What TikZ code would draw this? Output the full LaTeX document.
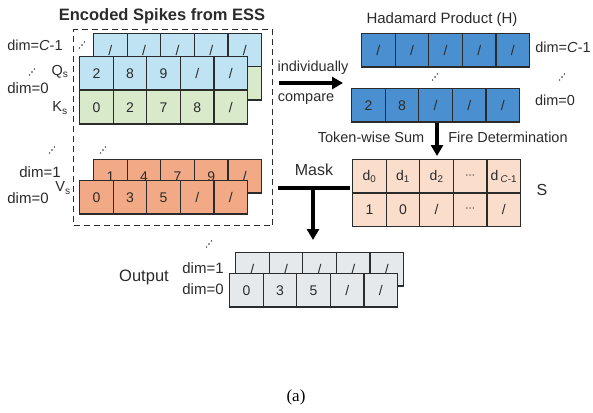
\documentclass[tikz,border=0pt]{standalone}
\usepackage{fontspec}
\setmainfont{Liberation Sans}
\newfontfamily\capfont{Liberation Serif}
\usetikzlibrary{arrows.meta}
\definecolor{qblue}{HTML}{BFE3F3}
\definecolor{kgreen}{HTML}{D9EACB}
\definecolor{vorange}{HTML}{F2A985}
\definecolor{hblue}{HTML}{4A90D0}
\definecolor{spink}{HTML}{FBDDCC}
\definecolor{ogray}{HTML}{E6E9EC}
\definecolor{lineC}{HTML}{2B2B2B}
\newcommand\mydots{{\fontsize{11}{11}\selectfont ·\kern-0.5pt·\kern-0.5pt·}}
\tikzset{
  cellbox/.style={draw=lineC, line width=1.2pt, minimum width=33.6pt, minimum height=33.4pt,
    inner sep=0pt, anchor=north west, font=\fontsize{14}{14}\selectfont, text=lineC},
  lbl/.style={font=\fontsize{14.5}{15}\selectfont, text=lineC, inner sep=0pt},
  bigarrow/.style={line width=3.4pt, draw=black, -{Triangle[length=11pt,width=12pt]}},
  thickline/.style={line width=3.4pt, draw=black},
  dashbox/.style={draw=lineC, line width=1.3pt, dash pattern=on 6pt off 4pt, anchor=north west, inner sep=0pt},
  pics/updots/.style={code={
    \fill[lineC] (-2.4,3) circle (0.8pt) (0,0) circle (0.8pt) (2.4,-3) circle (0.8pt);}},
}
\newcommand\cellrow[5]{%
  \foreach \t [count=\i] in {#5} {\node[cellbox, fill=#4] (#1\i) at ({#2+(\i-1)*33.6},#3) {\t};}}
\begin{document}
\begin{tikzpicture}[x=1pt,y=-1pt]
\useasboundingbox (0,0) rectangle (593,412);
% ESS box
\node[dashbox, minimum width=199pt, minimum height=196pt] (ess) at (73,29) {};
\node[lbl, font=\fontsize{16.5}{17}\selectfont\bfseries] (title) at (162,16) {Encoded Spikes from ESS};
% Q/K
\cellrow{qb}{93}{33}{qblue}{/,/,/,/,/}
\cellrow{kb}{93}{66}{kgreen}{,,,,}
\cellrow{qf}{79}{56}{qblue}{2,8,9,/,/}
\cellrow{kf}{79}{90}{kgreen}{0,2,7,8,/}
\node[lbl] (dimCa) at (35,45) {dim=\textit{C}-1};
\pic at (82,45) {updots};
\pic at (32,72) {updots};
\node[lbl] (qs) at (60,72) {Q\textsubscript{s}};
\node[lbl, font=\fontsize{15}{15}\selectfont] (dimza) at (28,88) {dim=0};
\node[lbl] (ks) at (60,108) {K\textsubscript{s}};
% V
\cellrow{vb}{93}{159}{vorange}{1,4,7,9,/}
\cellrow{vf}{79}{180}{vorange}{0,3,5,/,/}
\pic at (52,150) {updots};
\pic at (103,150) {updots};
\node[lbl, font=\fontsize{15}{15}\selectfont] (dimob) at (40,172) {dim=1};
\node[lbl] (vs) at (63,188) {V\textsubscript{s}};
\node[lbl, font=\fontsize{15}{15}\selectfont] (dimzb) at (28,198) {dim=0};
% compare arrow
\node[lbl] (indiv) at (313,68) {individually};
\node[lbl] (cmp) at (306,99) {compare};
\coordinate (ca) at (279,83);
\coordinate (cb) at (343,83);
\draw[bigarrow] (ca) -- (cb);
% Hadamard
\node[lbl, font=\fontsize{15}{15}\selectfont] (htitle) at (442,20) {Hadamard Product (H)};
\cellrow{hb}{361}{33}{hblue}{/,/,/,/,/}
\cellrow{hf}{351}{88}{hblue}{2,8,/,/,/}
\node[lbl] (dimCb) at (563,47) {dim=\textit{C}-1};
\pic at (435,77) {updots};
\pic at (562,77) {updots};
\node[lbl] (dimzc) at (555,100) {dim=0};
% token-wise
\node[lbl] (tws) at (371,137) {Token-wise Sum};
\node[lbl] (fire) at (508,137) {Fire Determination};
\coordinate (ta) at (437,123);
\coordinate (tb) at (437,156);
\draw[bigarrow] (ta) -- (tb);
% S table
\cellrow{sa}{352}{159}{spink}{d\textsubscript{0},d\textsubscript{1},d\textsubscript{2},\mydots,d\,\textsubscript{\textit{C}-1}}
\cellrow{sb}{352}{192.6}{spink}{1,0,/,\mydots,/}
\node[lbl, font=\fontsize{16}{16}\selectfont] (slab) at (542,190) {S};
% Mask
\node[lbl, font=\fontsize{16}{16}\selectfont] (mask) at (314,170) {Mask};
\coordinate (mL) at (278,188);
\coordinate (mR) at (350,188);
\coordinate (mJ) at (313,188);
\coordinate (mT) at (313,240);
\draw[thickline] (mL) -- (mR);
\draw[bigarrow] (mJ) -- (mT);
% Output
\cellrow{ob}{235}{252}{ogray}{/,/,/,/,/}
\cellrow{of}{229}{273}{ogray}{0,3,5,/,/}
\pic at (209,244) {updots};
\node[lbl, font=\fontsize{16.5}{17}\selectfont] (outlab) at (144,277) {Output};
\node[lbl, font=\fontsize{15}{15}\selectfont] (dimoc) at (203,268) {dim=1};
\node[lbl, font=\fontsize{15}{15}\selectfont] (dimzd) at (203,289) {dim=0};
% caption
\node[inner sep=0pt, font=\capfont\fontsize{17}{17}\selectfont] (cap) at (296,397) {(a)};
\end{tikzpicture}
\end{document}
